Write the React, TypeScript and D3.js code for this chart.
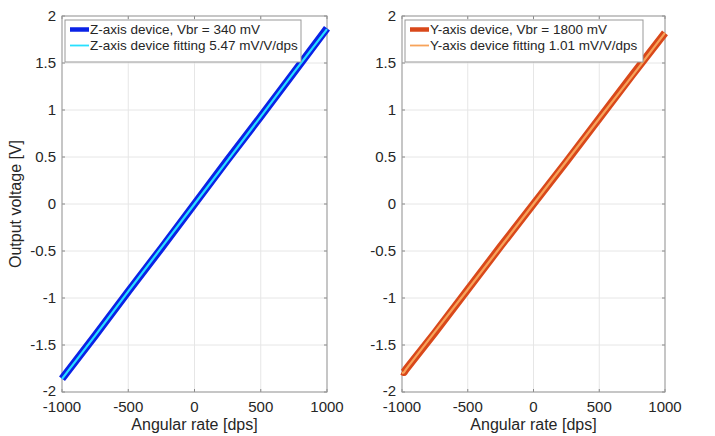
import React from 'react';
import * as d3 from 'd3';

// angular rate [dps] and output voltage [V]
const rates = [-1000, -750, -500, -250, 0, 250, 500, 750, 1000];
const zMeasured = [-1.86, -1.4, -0.93, -0.47, 0.0, 0.47, 0.93, 1.4, 1.87];
const zFit = [-1.86, -1.4, -0.93, -0.465, 0.0, 0.465, 0.93, 1.4, 1.86];
const yRates = [-1000, -985, -970, -750, -500, -250, 0, 250, 500, 750, 1000];
const yMeasured = [-1.78, -1.79, -1.76, -1.37, -0.91, -0.45, 0.0, 0.45, 0.91, 1.37, 1.82];
const yFit = [-1.8, -1.79, -1.76, -1.36, -0.91, -0.455, 0.0, 0.455, 0.91, 1.36, 1.82];

const xTicks = [-1000, -500, 0, 500, 1000];
const yTicks = [-2, -1.5, -1, -0.5, 0, 0.5, 1, 1.5, 2];

const panels = [
  {
    left: 62, right: 327,
    x: rates, data: zMeasured, fit: zFit,
    outer: '#0a22e6', inner: '#27e0ff',
    labels: ['Z-axis device, Vbr = 340 mV', 'Z-axis device fitting 5.47 mV/V/dps'],
    legendW: 236,
    yLabel: true,
  },
  {
    left: 402, right: 665,
    x: yRates, data: yMeasured, fit: yFit,
    outer: '#d9481a', inner: '#f7a35a',
    labels: ['Y-axis device, Vbr = 1800 mV', 'Y-axis device fitting 1.01 mV/V/dps'],
    legendW: 238,
    yLabel: false,
  },
];

const top = 16;
const bottom = 392;
const font = '"Liberation Sans", Arial, sans-serif';
const textCol = '#262626';

const Panel = ({ p }: { p: any }) => {
  const x = d3.scaleLinear().domain([-1000, 1000]).range([p.left, p.right]);
  const y = d3.scaleLinear().domain([-2, 2]).range([bottom, top]);
  const line = d3.line<number>().x((d, i) => x(p.x[i])).y(d => y(d));
  const lx = p.left + 3;
  const ly = 20;
  return (
    <g>
      <rect x={p.left} y={top} width={p.right - p.left} height={bottom - top} fill="#fff" />
      {xTicks.map(t => (
        <line key={'gx' + t} x1={x(t)} x2={x(t)} y1={top} y2={bottom} stroke="#e6e6e6" />
      ))}
      {yTicks.map(t => (
        <line key={'gy' + t} x1={p.left} x2={p.right} y1={y(t)} y2={y(t)} stroke="#e6e6e6" />
      ))}
      {xTicks.map(t => (
        <g key={'tx' + t}>
          <line x1={x(t)} x2={x(t)} y1={bottom} y2={bottom - 3} stroke="#888" />
          <line x1={x(t)} x2={x(t)} y1={top} y2={top + 3} stroke="#888" />
          <text x={x(t)} y={bottom + 20} textAnchor="middle" fontSize={15} fill={textCol} fontFamily={font}>{t}</text>
        </g>
      ))}
      {yTicks.map(t => (
        <g key={'ty' + t}>
          <line x1={p.left} x2={p.left + 3} y1={y(t)} y2={y(t)} stroke="#888" />
          <line x1={p.right} x2={p.right - 3} y1={y(t)} y2={y(t)} stroke="#888" />
          <text x={p.left - 6} y={y(t) + (t === -2 ? 3.5 : 5)} textAnchor="end" fontSize={15} fill={textCol} fontFamily={font}>{t}</text>
        </g>
      ))}
      <rect x={p.left} y={top} width={p.right - p.left} height={bottom - top} fill="none" stroke="#999" />
      <path d={line(p.data) || ''} fill="none" stroke={p.outer} strokeWidth={7.5} strokeLinejoin="round" />
      <path d={line(p.fit) || ''} fill="none" stroke={p.inner} strokeWidth={2.2} />
      <text x={(p.left + p.right) / 2} y={430} textAnchor="middle" fontSize={16} fill={textCol} fontFamily={font}>Angular rate [dps]</text>
      {p.yLabel && (
        <text transform={`translate(21,${(top + bottom) / 2}) rotate(-90)`} textAnchor="middle" fontSize={16} fill={textCol} fontFamily={font}>Output voltage [V]</text>
      )}
      <rect x={lx} y={ly} width={p.legendW} height={42} fill="#fff" stroke="#999" />
      <line x1={lx + 5} x2={lx + 24} y1={ly + 9.5} y2={ly + 9.5} stroke={p.outer} strokeWidth={4.5} />
      <line x1={lx + 5} x2={lx + 24} y1={ly + 25.5} y2={ly + 25.5} stroke={p.inner} strokeWidth={1.8} />
      <text x={lx + 25} y={ly + 14} fontSize={13.5} fill={textCol} fontFamily={font}>{p.labels[0]}</text>
      <text x={lx + 25} y={ly + 30} fontSize={13.5} fill={textCol} fontFamily={font}>{p.labels[1]}</text>
    </g>
  );
};

export default function App() {
  return (
    <svg width={715} height={436} style={{ position: 'absolute', left: 0, top: 0, background: '#fff' }}>
      {panels.map((p, i) => <Panel key={i} p={p} />)}
    </svg>
  );
}
